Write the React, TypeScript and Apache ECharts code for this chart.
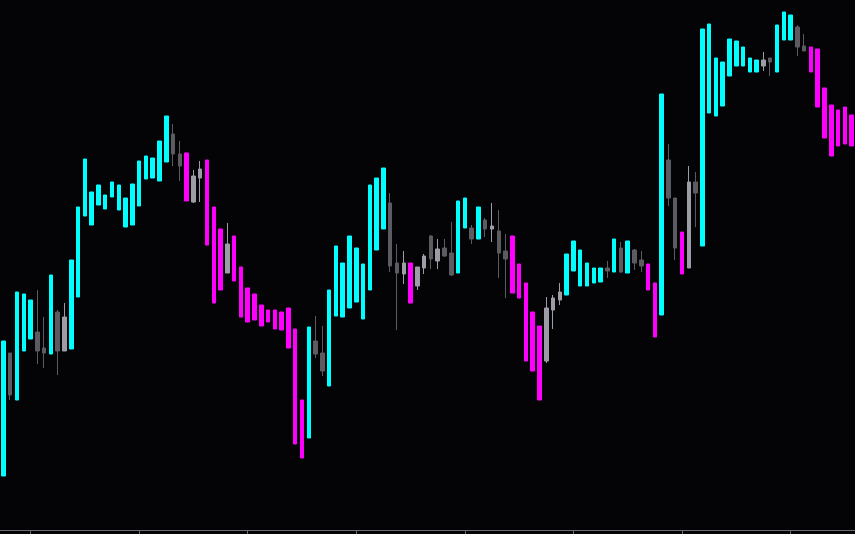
import React, { useEffect, useRef } from "react";
import * as echarts from "echarts";

// Bar states: U = up-trend (cyan), D = down-trend (magenta), N = neutral (gray)
const kinds: string[] = (
  "UNUUUNNUNN" + "UUUUUUUUUU" + "UUUUUNNDNN" + "DDDNDDDDDD" + "DDDDDUNNUU" +
  "UUUUUUUNNN" + "DNNNNNNUUN" + "UNNNNDDDDD" + "NNNUUUUUUN" + "UNUNNDDUNN" +
  "DNNUUUUUUU" + "UUNNUUUNND" + "DDDDDD"
).split("");

const opens: number[] = [
  54, 177, 130, 179, 191, 198, 182, 176, 218, 179,
  181, 233, 314, 305, 325, 321, 333, 320, 303, 305,
  324, 351, 352, 349, 368, 396, 376, 377, 328, 352,
  370, 323, 301, 257, 294, 263, 242, 236, 225, 220,
  220, 218, 222, 201, 130, 92, 189, 177, 144, 214,
  213, 222, 228, 211, 240, 280, 301, 327, 267, 256,
  267, 244, 262, 294, 269, 282, 277, 257, 302, 302,
  291, 310, 301, 299, 279, 294, 266, 247, 218, 204,
  169, 220, 230, 235, 259, 244, 244, 247, 248, 262,
  258, 282, 257, 280, 270, 266, 247, 215, 370, 332,
  298, 262, 348, 284, 417, 414, 424, 454, 464, 464,
  458, 458, 464, 472, 458, 490, 490, 503, 484, 483,
  481, 442, 425, 420, 423, 415,
];

const closes: number[] = [
  189, 135, 238, 236, 230, 179, 177, 255, 179, 213,
  270, 323, 371, 338, 345, 335, 348, 345, 332, 346,
  369, 374, 372, 389, 414, 376, 364, 329, 354, 361,
  285, 227, 240, 286, 249, 213, 208, 210, 204, 208,
  201, 200, 182, 86, 72, 203, 176, 159, 240, 284,
  267, 294, 282, 266, 345, 352, 362, 264, 257, 267,
  227, 263, 274, 271, 281, 274, 255, 329, 332, 291,
  323, 301, 304, 277, 271, 237, 232, 169, 159, 130,
  222, 232, 238, 276, 289, 280, 267, 262, 262, 259,
  291, 258, 289, 267, 264, 240, 193, 436, 332, 282,
  256, 348, 337, 501, 506, 472, 468, 491, 489, 483,
  472, 470, 470, 468, 505, 518, 515, 483, 479, 458,
  423, 392, 374, 384, 386, 384,
];

const lows: number[] = [
  54, 130, 130, 179, 191, 166, 162, 176, 155, 179,
  181, 233, 314, 305, 325, 321, 333, 320, 303, 305,
  324, 351, 352, 349, 368, 364, 349, 329, 327, 328,
  285, 227, 240, 257, 249, 213, 208, 210, 204, 208,
  201, 200, 182, 86, 72, 92, 172, 154, 144, 214,
  213, 222, 228, 211, 240, 280, 301, 258, 200, 246,
  227, 240, 256, 261, 261, 273, 254, 257, 302, 286,
  291, 293, 288, 252, 232, 237, 232, 169, 159, 130,
  167, 201, 225, 235, 259, 244, 244, 247, 248, 252,
  258, 257, 257, 260, 258, 240, 193, 215, 324, 270,
  256, 262, 303, 284, 417, 414, 424, 454, 464, 464,
  458, 458, 459, 454, 458, 490, 490, 474, 479, 458,
  423, 392, 374, 384, 386, 384,
];

const highs: number[] = [
  189, 177, 238, 236, 230, 240, 213, 255, 220, 227,
  270, 323, 371, 338, 345, 335, 348, 345, 332, 346,
  369, 374, 372, 389, 414, 406, 389, 377, 360, 369,
  370, 323, 301, 307, 294, 263, 242, 236, 225, 220,
  220, 218, 222, 201, 130, 203, 214, 204, 240, 284,
  267, 294, 282, 266, 345, 352, 362, 337, 286, 279,
  267, 263, 276, 295, 291, 291, 308, 329, 332, 305,
  323, 312, 327, 320, 296, 294, 266, 247, 218, 204,
  233, 235, 247, 276, 289, 280, 267, 262, 262, 269,
  291, 288, 289, 281, 279, 266, 247, 436, 386, 332,
  298, 364, 358, 501, 506, 472, 468, 491, 489, 483,
  472, 470, 478, 472, 505, 518, 515, 505, 496, 483,
  481, 442, 425, 420, 423, 415,
];

const categories: string[] = opens.map((_, i) => String(i + 1));

const CYAN = "#00ffff";
const MAGENTA = "#ff00ff";
const GRAY_DARK = "#5b5b61";
const GRAY_LIGHT = "#9c9da6";

export default function App() {
  const ref = useRef<HTMLDivElement>(null);

  useEffect(() => {
    document.body.style.margin = "0";
    document.body.style.background = "#040407";
    if (!ref.current) return;
    const chart = echarts.init(ref.current, null, { renderer: "svg" });

    const data = opens.map((o, i) => {
      const k = kinds[i];
      let c: string;
      if (k === "U") c = CYAN;
      else if (k === "D") c = MAGENTA;
      else c = closes[i] >= o ? GRAY_LIGHT : GRAY_DARK;
      return {
        value: [o, closes[i], lows[i], highs[i]],
        itemStyle: { color: c, color0: c, borderColor: c, borderColor0: c },
      };
    });

    chart.setOption({
      animation: false,
      backgroundColor: "#040407",
      grid: { left: 0, right: 0, top: 0, bottom: 4, containLabel: false },
      xAxis: {
        type: "category",
        data: categories,
        boundaryGap: true,
        axisLine: { show: true, lineStyle: { color: "#6b6c74", width: 1 } },
        axisTick: {
          show: true,
          alignWithLabel: true,
          length: 4,
          interval: (idx: number) => idx >= 4 && (idx - 4) % 16 === 0,
          lineStyle: { color: "#6b6c74", width: 1 },
        },
        axisLabel: { show: false },
        splitLine: { show: false },
      },
      yAxis: {
        type: "value",
        min: 0,
        max: 530,
        show: false,
        splitLine: { show: false },
      },
      series: [
        {
          type: "candlestick",
          barWidth: 4,
          data,
          itemStyle: { borderWidth: 1 },
        },
      ],
    });

    return () => chart.dispose();
  }, []);

  return (
    <div
      ref={ref}
      style={{ position: "absolute", left: 0, top: 0, width: 855, height: 534 }}
    />
  );
}
